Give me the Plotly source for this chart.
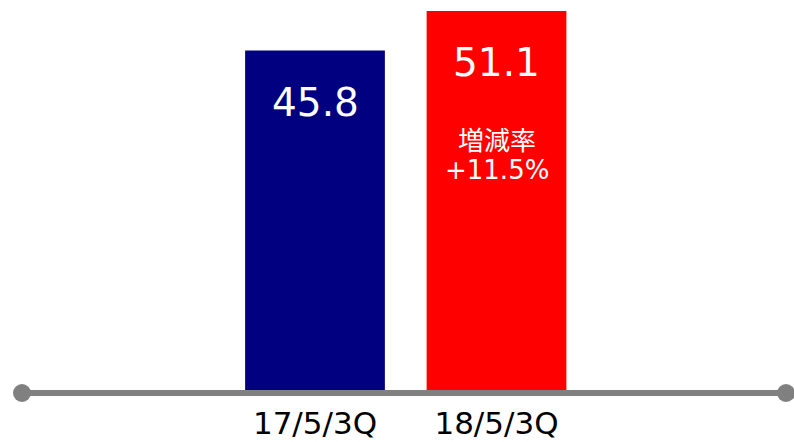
import plotly.graph_objects as go

# data
periods = ["17/5/3Q", "18/5/3Q"]
values = [45.8, 51.1]
bar_colors = ["#000080", "#FF0000"]
change_label = "増減率"
change_pct = "+11.5%"

FONT = "DejaVu Sans, Verdana, sans-serif"
AXIS_GRAY = "#808080"

fig = go.Figure()
fig.add_trace(go.Bar(
    x=periods,
    y=values,
    marker=dict(color=bar_colors, line=dict(width=0)),
    width=0.77,
    hoverinfo="x+y",
))

# value labels inside the bars
for p, v in zip(periods, values):
    fig.add_annotation(
        x=p, y=v, text=f"{v:.1f}", showarrow=False,
        yanchor="middle", yshift=-52,
        font=dict(family=FONT, size=39, color="white"),
    )

# growth rate on the second bar
fig.add_annotation(
    x=periods[1], y=values[1], text=change_label, showarrow=False,
    yanchor="middle", yshift=-128,
    font=dict(family="Noto Sans CJK JP, sans-serif", size=26, color="white"),
)
fig.add_annotation(
    x=periods[1], y=values[1], text=change_pct, showarrow=False,
    yanchor="middle", yshift=-159,
    font=dict(family=FONT, size=26, color="white"),
)

# baseline with round end caps (paper refs so nothing gets clipped)
x_left, x_right = 22 / 794, 786 / 794
fig.add_shape(type="line", xref="paper", yref="paper", x0=x_left, x1=x_right,
              y0=0, y1=0, line=dict(color=AXIS_GRAY, width=6))
for xe in (x_left, x_right):
    fig.add_shape(type="circle", xref="paper", yref="paper",
                  xsizemode="pixel", ysizemode="pixel",
                  xanchor=xe, yanchor=0, x0=-9, x1=9, y0=-9, y1=9,
                  fillcolor=AXIS_GRAY, line=dict(width=0))

fig.update_layout(
    width=794, height=442,
    margin=dict(l=0, r=0, t=0, b=49),
    paper_bgcolor="white", plot_bgcolor="white",
    showlegend=False,
    xaxis=dict(
        range=[-1.7355, 2.639], showgrid=False, zeroline=False,
        showline=False, ticks="", ticklabelstandoff=9, automargin=False,
        tickfont=dict(family=FONT, size=31, color="#000000"),
    ),
    yaxis=dict(range=[0, 52.57], visible=False, automargin=False),
)

fig.write_html("out.html", config={"displayModeBar": False},
               post_script="document.body.style.margin='0';")
